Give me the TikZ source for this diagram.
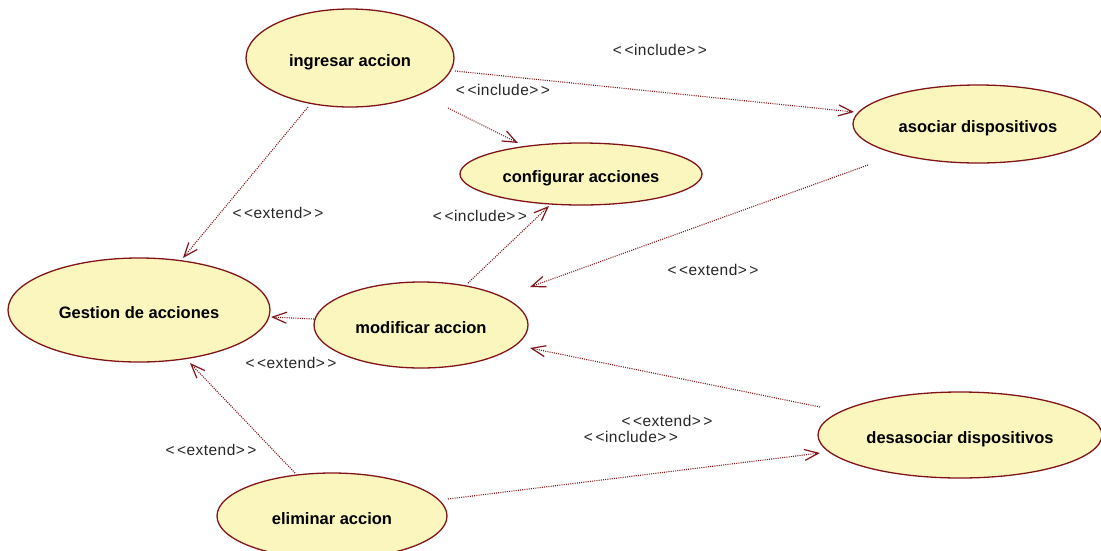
\documentclass[tikz,border=0pt]{standalone}
\usepackage{fontspec}
\setmainfont{Liberation Sans}
\usetikzlibrary{shapes.geometric,arrows.meta}
\definecolor{ucline}{RGB}{128,20,24}
\definecolor{ucfill}{RGB}{251,246,190}
\tikzset{
  usecase/.style={ellipse, draw=ucline, line width=1.3pt, fill=ucfill, inner sep=0pt,
    text height=17pt, text depth=0pt,
    font=\fontsize{16.5}{19}\selectfont\bfseries},
  dep/.style={draw=ucline, line width=1.1pt, dash pattern=on 1pt off 1.2pt,
    -{Straight Barb[length=14pt,width=11pt,line width=1.2pt]}},
  stereo/.style={font=\fontsize{15.5}{18}\selectfont\addfontfeatures{LetterSpace=3}, text=black!85}
}
\newcommand{\lt}{<\kern2.5pt<}
\newcommand{\gt}{>\kern2.5pt>}
\begin{document}
\begin{tikzpicture}[x=1pt,y=-1pt]
\clip (0,0) rectangle (1101,550);
\fill[white] (0,0) rectangle (1101,550);

% use cases
\node[usecase, minimum width=208pt, minimum height=98pt] (ing) at (350,58) {ingresar accion};
\node[usecase, minimum width=242pt, minimum height=62pt] (cfg) at (581,174) {configurar acciones};
\node[usecase, minimum width=250pt, minimum height=78pt] (aso) at (978,124) {asociar dispositivos};
\node[usecase, minimum width=262pt, minimum height=104pt] (ges) at (139,310) {Gestion de acciones};
\node[usecase, minimum width=214pt, minimum height=86pt] (mod) at (421,325) {modificar accion};
\node[usecase, minimum width=284pt, minimum height=86pt] (des) at (960,435) {desasociar dispositivos};
\node[usecase, minimum width=230pt, minimum height=86pt] (eli) at (332,516) {eliminar accion};

% dependencies (end points given as offsets from the use case centres)
\draw[dep] ([shift={(105,13)}]ing.center)  -- ([shift={(-124,-12)}]aso.center);
\draw[dep] ([shift={(98,50)}]ing.center)   -- ([shift={(-63,-31)}]cfg.center);
\draw[dep] ([shift={(-42,49)}]ing.center)  -- ([shift={(44,-52)}]ges.center);
\draw[dep] ([shift={(47,-42)}]mod.center)  -- ([shift={(-32,32)}]cfg.center);
\draw[dep] ([shift={(-110,41)}]aso.center) -- ([shift={(109,-38)}]mod.center);
\draw[dep] ([shift={(-107,-6)}]mod.center) -- ([shift={(132,7)}]ges.center);
\draw[dep] ([shift={(-140,-28)}]des.center) -- ([shift={(109,23)}]mod.center);
\draw[dep] ([shift={(116,-17)}]eli.center) -- ([shift={(-140,18)}]des.center);
\draw[dep] ([shift={(-37,-43)}]eli.center) -- ([shift={(51,53)}]ges.center);

% stereotypes
\node[stereo] (l1) at (660,50) {\lt include\gt};
\node[stereo] (l2) at (503,90) {\lt include\gt};
\node[stereo] (l3) at (278,213) {\lt extend\gt};
\node[stereo] (l4) at (480,216) {\lt include\gt};
\node[stereo] (l5) at (713,270) {\lt extend\gt};
\node[stereo] (l6) at (291,363) {\lt extend\gt};
\node[stereo] (l7) at (667,421) {\lt extend\gt};
\node[stereo] (l8) at (631,437) {\lt include\gt};
\node[stereo] (l9) at (211,450) {\lt extend\gt};
\end{tikzpicture}
\end{document}
